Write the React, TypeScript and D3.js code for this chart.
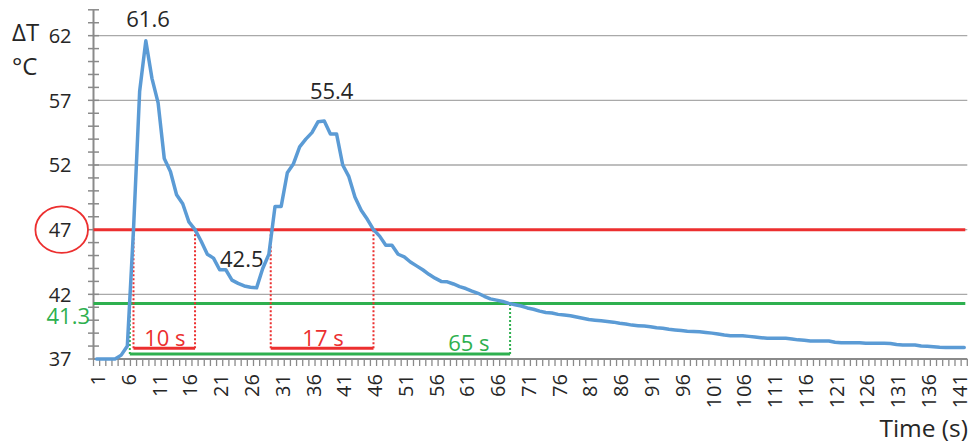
import React from "react";
import * as d3 from "d3";

// ---- data ----
const temps: number[] = [
  37.0, 37.0, 37.0, 37.0, 37.3, 38.0, 47.0, 57.7, 61.6, 58.7,
  56.8, 52.5, 51.5, 49.7, 49.0, 47.6, 47.0, 46.1, 45.1, 44.8,
  43.9, 43.9, 43.1, 42.85, 42.65, 42.55, 42.5, 44.0, 45.1, 48.8,
  48.8, 51.4, 52.1, 53.4, 54.0, 54.5, 55.35, 55.4, 54.4, 54.4,
  52.0, 51.1, 49.5, 48.5, 47.8, 47.0, 46.5, 45.8, 45.8, 45.1,
  44.9, 44.5, 44.2, 43.9, 43.55, 43.25, 43.0, 42.97, 42.8, 42.6,
  42.45, 42.25, 42.08, 41.85, 41.65, 41.55, 41.45, 41.3, 41.2, 41.1,
  40.95, 40.85, 40.7, 40.6, 40.55, 40.45, 40.4, 40.35, 40.25, 40.15,
  40.05, 40.0, 39.95, 39.9, 39.85, 39.76, 39.7, 39.62, 39.58, 39.55,
  39.5, 39.42, 39.38, 39.3, 39.25, 39.2, 39.15, 39.12, 39.1, 39.05,
  39.0, 38.93, 38.85, 38.8, 38.8, 38.8, 38.75, 38.7, 38.65, 38.6,
  38.6, 38.6, 38.6, 38.55, 38.48, 38.45, 38.4, 38.39, 38.39, 38.39,
  38.3, 38.26, 38.26, 38.26, 38.26, 38.22, 38.21, 38.21, 38.21, 38.2,
  38.12, 38.08, 38.08, 38.08, 38.0, 37.98, 37.95, 37.9, 37.88, 37.88,
  37.88, 37.88,
];
const categories: number[] = temps.map((_, i) => i + 1);
const xTickLabels: number[] = categories.filter((c) => (c - 1) % 5 === 0);
const yMajorTicks: number[] = [37, 42, 47, 52, 57, 62];
const yMinorTicks: number[] = d3.range(37, 65);

const thresholds = [
  { value: 47, color: "#ec2f2f" },
  { value: 41.3, color: "#2eb04f" },
];
const intervals = [
  { from: 7, to: 17, level: 37.83, label: "10 s", labelAt: 12.1, color: "#ec2f2f" },
  { from: 29.3, to: 46, level: 37.83, label: "17 s", labelAt: 37.8, color: "#ec2f2f" },
  { from: 6.4, to: 68.2, level: 37.39, label: "65 s", labelAt: 61.5, color: "#2eb04f" },
];
const valueLabels = [
  { text: "61.6", cat: 9.36, value: 62.66 },
  { text: "55.4", cat: 39.2, value: 57.09 },
  { text: "42.5", cat: 24.6, value: 44.13 },
];

const W = 971;
const H = 446;
const FONT = "'Open Sans', 'Noto Sans', sans-serif";

export default function App() {
  const x = d3.scaleLinear().domain([0.5, categories.length + 0.5]).range([93.5, 967.3]);
  const y = d3.scaleLinear().domain([37, 64]).range([359, 9.8]);
  const line = d3
    .line<number>()
    .x((_, i) => x(categories[i]))
    .y((d) => y(d));

  const axisColor = "#8a8a8a";
  const gridColor = "#a9a9a9";
  const boundaries = d3.range(0, categories.length + 1).map((i) => i + 0.5);

  return (
    <svg
      width={W}
      height={H}
      style={{ position: "absolute", left: 0, top: 0, background: "#fff" }}
      fontFamily={FONT}
    >
      <rect width={W} height={H} fill="#fff" />
      {/* gridlines */}
      {yMajorTicks.filter((v) => v > 37).map((v) => (
        <line key={"g" + v} x1={x.range()[0]} x2={x.range()[1]} y1={y(v)} y2={y(v)} stroke={gridColor} strokeWidth={1.3} />
      ))}
      {/* y axis */}
      <line x1={x.range()[0]} x2={x.range()[0]} y1={y(64)} y2={y(37)} stroke={axisColor} strokeWidth={2} />
      {yMinorTicks.map((v) => (
        <line key={"yt" + v} x1={x.range()[0] - 5.5} x2={x.range()[0] + 5.5} y1={y(v)} y2={y(v)} stroke={axisColor} strokeWidth={1.5} />
      ))}
      {yMajorTicks.map((v) => (
        <text key={"yl" + v} x={71.5} y={y(v) + 7.2} textAnchor="end" fontSize={20} fill="#262626">
          {v}
        </text>
      ))}
      {/* x axis */}
      <line x1={x.range()[0]} x2={x.range()[1]} y1={y(37)} y2={y(37)} stroke={axisColor} strokeWidth={2} />
      {boundaries.map((b) => (
        <line key={"xt" + b} x1={x(b)} x2={x(b)} y1={y(37)} y2={y(37) + 7} stroke={axisColor} strokeWidth={1.3} />
      ))}
      {xTickLabels.map((c) => (
        <text
          key={"xl" + c}
          transform={`translate(${x(c) + 8.6},374) rotate(-90)`}
          textAnchor="end"
          fontSize={20}
          fill="#262626"
        >
          {c}
        </text>
      ))}
      {/* thresholds */}
      {thresholds.map((t) => (
        <line key={"th" + t.value} x1={x.range()[0]} x2={x.range()[1] - 2} y1={y(t.value)} y2={y(t.value)} stroke={t.color} strokeWidth={3} />
      ))}
      {/* intervals */}
      {intervals.map((iv) => {
        const th = thresholds.find((t) => t.color === iv.color)!;
        return (
          <g key={iv.label}>
            {[iv.from, iv.to].map((c) => (
              <line key={c} x1={x(c)} x2={x(c)} y1={y(iv.level)} y2={y(th.value)} stroke={iv.color} strokeWidth={2} strokeDasharray="2 2" />
            ))}
            <line x1={x(iv.from)} x2={x(iv.to)} y1={y(iv.level)} y2={y(iv.level)} stroke={iv.color} strokeWidth={3} />
            <text x={x(iv.labelAt)} y={y(iv.level) - 2.5} textAnchor="middle" fontSize={22} fill={iv.color}>
              {iv.label}
            </text>
          </g>
        );
      })}
      {/* data line */}
      <path d={line(temps) || ""} fill="none" stroke="#5b9bd5" strokeWidth={3.5} strokeLinejoin="round" strokeLinecap="round" />
      {/* value labels */}
      {valueLabels.map((l) => (
        <text key={l.text} x={x(l.cat)} y={y(l.value)} textAnchor="middle" fontSize={22} fill="#262626">
          {l.text}
        </text>
      ))}
      {/* 41.3 label */}
      <text x={x.range()[0] - 3.5} y={y(41.3) + 20.5} textAnchor="end" fontSize={22} fill="#2eb04f">
        41.3
      </text>
      {/* circle around 47 */}
      <ellipse cx={61.7} cy={y(47)} rx={26.3} ry={23.2} fill="none" stroke="#ec2f2f" strokeWidth={1.8} />
      {/* axis titles */}
      <text x={12} y={41} fontSize={24} fill="#262626">ΔT</text>
      <text x={12} y={75} fontSize={24} fill="#262626">°C</text>
      <text x={968} y={437} textAnchor="end" fontSize={24.5} fill="#262626">Time (s)</text>
    </svg>
  );
}
